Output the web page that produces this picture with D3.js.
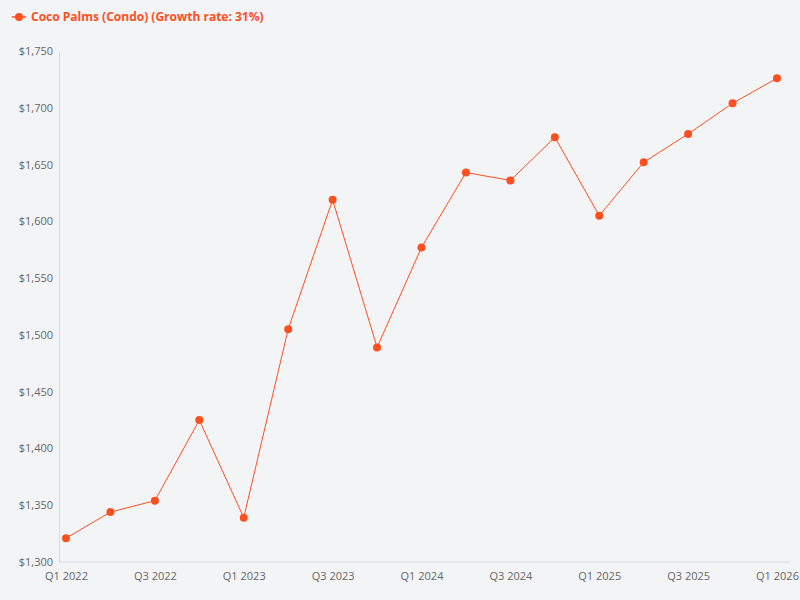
<!DOCTYPE html>
<html><head><meta charset="utf-8">
<script src="https://cdn.jsdelivr.net/npm/d3@7"></script>
<style>
body{margin:0;background:#f3f4f6;font-family:"Open Sans",sans-serif;}
</style></head><body>
<svg id="chart" width="800" height="600"></svg>
<script>
const quarters = ['Q1 2022','Q2 2022','Q3 2022','Q4 2022','Q1 2023','Q2 2023','Q3 2023','Q4 2023',
  'Q1 2024','Q2 2024','Q3 2024','Q4 2024','Q1 2025','Q2 2025','Q3 2025','Q4 2025','Q1 2026'];
const prices = [1321,1344,1354,1425,1339,1505,1619,1489,1577,1643,1636,1674,1605,1652,1677,1704,1726];
const yTicks = [1300,1350,1400,1450,1500,1550,1600,1650,1700,1750];
const seriesName = 'Coco Palms (Condo) (Growth rate: 31%)';
const color = '#ff4f1f';

const svg = d3.select('#chart');
svg.append('rect').attr('width',800).attr('height',600).attr('fill','#f3f4f6');

const x = d3.scalePoint().domain(quarters).range([66,777]);
const y = d3.scaleLinear().domain([1300,1750]).range([562,51]);

const fmt = d => '$' + d3.format(',')(d);

const yAxis = svg.append('g').attr('transform','translate(59,0)')
  .call(d3.axisLeft(y).tickValues(yTicks).tickFormat(fmt).tickSize(0).tickPadding(6));
yAxis.select('.domain').attr('stroke','#d5dbe3');
yAxis.selectAll('text').attr('fill','#666').style('font-size','11px').style('font-family','"Open Sans",sans-serif');

const xAxis = svg.append('g').attr('transform','translate(0,562)')
  .call(d3.axisBottom(x).tickValues(quarters.filter((d,i)=>i%2===0)).tickSize(0).tickPadding(10));
xAxis.select('.domain').attr('d','M59,0H790').attr('stroke','#d5dbe3');
xAxis.selectAll('text').attr('fill','#666').style('font-size','11px').style('font-family','"Open Sans",sans-serif');

const line = d3.line().x((d,i)=>x(quarters[i])).y(d=>y(d));
svg.append('path').datum(prices).attr('d',line).attr('fill','none').attr('stroke',color).attr('stroke-width',1);
svg.selectAll('circle.pt').data(prices).join('circle').attr('class','pt')
  .attr('cx',(d,i)=>x(quarters[i])).attr('cy',d=>y(d)).attr('r',4).attr('fill',color);

const lg = svg.append('g').attr('transform','translate(12,17)');
lg.append('line').attr('x1',0).attr('x2',14).attr('stroke',color).attr('stroke-width',1.5);
lg.append('circle').attr('cx',7).attr('r',4).attr('fill',color);
lg.append('text').attr('x',19).attr('y',4).text(seriesName).attr('fill',color)
  .style('font-size','12px').style('font-weight','bold');
</script>
</body></html>
